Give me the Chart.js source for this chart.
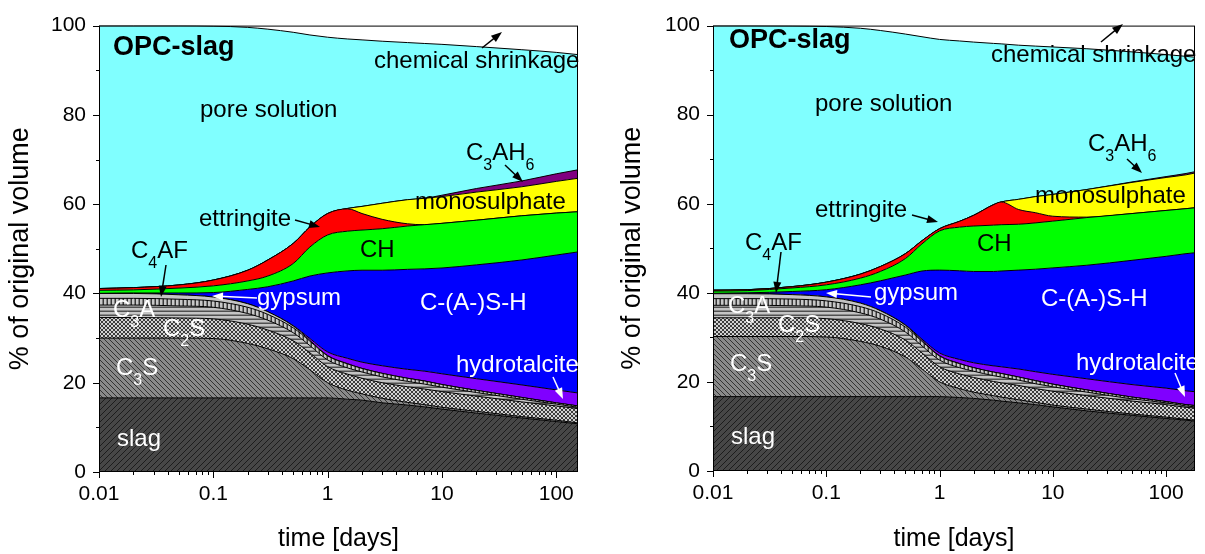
<!DOCTYPE html>
<html>
<head>
<meta charset="utf-8">
<script src="https://cdn.jsdelivr.net/npm/chart.js@4.4.0/dist/chart.umd.min.js"></script>
<style>
body { margin: 0; background: #fff; width: 1205px; height: 554px; overflow: hidden; display: flex; }
canvas { display: block; }
</style>
</head>
<body>
<canvas id="left" width="605" height="554"></canvas>
<canvas id="right" width="600" height="554"></canvas>
<script>
// phase volumes (% of original volume)
var tLeft   = [0.01,0.02,0.05,0.1,0.2,0.3,0.5,0.7,1,1.5,2,3,5,7,10,20,50,100,155];
var slagL   = [16.6,16.6,16.6,16.6,16.6,16.6,16.6,16.6,16.6,16.3,16.1,15.5,15.0,14.6,14.1,13.2,12.1,11.3,10.8];
var c3sL    = [13.4,13.4,13.4,13.3,12.2,11.0,8.8,6.3,3.4,2.0,1.4,1.0,0.6,0.5,0.4,0.4,0.3,0.3,0.2];
var c2sL    = [4.6,4.6,4.5,4.4,4.3,4.2,4.0,3.8,3.6,3.6,3.5,3.5,3.5,3.5,3.5,3.4,3.3,3.2,3.2];
var c3aL    = [2.8,2.8,2.7,2.6,2.4,2.2,1.8,1.6,1.5,1.4,1.4,1.3,1.2,1.1,1.0,0.8,0.6,0.4,0.3];
var c4afL   = [1.5,1.5,1.5,1.4,1.4,1.3,1.1,1.0,0.9,0.9,0.8,0.8,0.7,0.7,0.6,0.5,0.4,0.3,0.3];
var gypL    = [1.1,1.1,1.0,0.9,0.8,0.6,0.4,0.2,0.1,0.05,0,0,0,0,0,0,0,0,0];
var htL     = [0,0,0,0,0,0,0.1,0.4,0.8,1.2,1.4,1.7,2.0,2.2,2.4,2.6,2.8,2.9,2.9];
var cshL    = [0,0.1,0.4,1.0,3.2,5.6,10.0,14.0,17.7,19.6,20.6,21.4,22.4,22.9,23.7,25.5,28.0,30.2,31.6];
var chL     = [0.7,0.7,1.1,1.5,1.9,2.4,3.9,6.5,8.5,8.9,9.0,9.3,9.7,9.9,10.0,10.0,9.9,9.4,9.0];
var ettL    = [0.4,0.5,0.7,1.3,2.4,3.6,4.5,4.5,4.8,5.0,3.7,2.1,0.5,0,0,0,0,0,0];
var msL     = [0,0,0,0,0,0,0,0,0,0.1,1.6,3.6,5.4,5.9,6.0,6.3,6.5,7.1,7.5];
var c3ah6L  = [0,0,0,0,0,0,0,0,0,0,0,0,0,0,0.3,0.8,1.3,1.7,1.9];
var poreL   = [58.9,58.7,58.1,56.9,54.4,51.7,47.3,43.0,39.5,37.95,37.3,36.3,35.2,34.7,33.8,31.8,29.4,27.2,25.8];

var tRight  = [0.01,0.02,0.05,0.1,0.2,0.3,0.5,0.7,1,1.5,2,3,3.5,5,7,10,20,50,100,150,180];
var slagR   = [16.7,16.7,16.7,16.7,16.7,16.7,16.7,16.7,16.7,16.5,16.3,15.9,15.7,15.3,14.9,14.4,13.5,12.5,11.8,11.4,11.2];
var c3sR    = [13.5,13.5,13.5,13.4,12.4,11.3,8.9,6.2,3.3,2.0,1.4,1.0,0.9,0.7,0.5,0.4,0.4,0.3,0.3,0.2,0.2];
var c2sR    = [4.2,4.2,4.2,4.1,4.0,3.9,3.8,3.6,3.4,3.3,3.3,3.2,3.2,3.2,3.1,3.1,3.0,2.9,2.8,2.7,2.7];
var c3aR    = [2.8,2.8,2.7,2.6,2.4,2.2,1.8,1.6,1.5,1.4,1.4,1.3,1.3,1.2,1.1,1.0,0.8,0.5,0.4,0.3,0.3];
var c4afR   = [1.5,1.5,1.5,1.4,1.4,1.3,1.1,1.0,0.9,0.9,0.8,0.8,0.8,0.7,0.7,0.6,0.5,0.4,0.3,0.3,0.3];
var gypR    = [1.1,1.1,1.0,0.9,0.8,0.6,0.4,0.2,0.1,0.05,0,0,0,0,0,0,0,0,0,0,0];
var htR     = [0,0,0,0,0,0,0.1,0.3,0.6,0.9,1.1,1.4,1.5,1.8,2.0,2.2,2.5,2.8,3.0,3.1,3.1];
var cshR    = [0.1,0.2,0.7,1.6,4.1,6.7,11.2,15.3,18.6,19.9,20.5,21.2,21.5,22.2,23.0,23.9,25.5,27.9,29.6,30.8,31.2];
var chR     = [0.5,0.5,0.8,1.1,1.5,2.1,3.7,6.1,8.8,9.8,10.2,10.4,10.4,10.3,10.4,10.5,10.7,10.5,10.3,10.1,10.1];
var ettR    = [0.2,0.2,0.3,0.6,0.9,1.1,1.1,0.7,0.5,1.3,2.4,4.6,5.1,3.3,2.3,1.1,0.1,0,0,0,0];
var msR     = [0,0,0,0,0,0,0,0,0,0,0,0,0,2.3,3.6,4.9,6.2,7.0,7.4,7.6,7.8];
var c3ah6R  = [0,0,0,0,0,0,0,0,0,0,0,0,0,0,0,0,0,0.1,0.2,0.3,0.3];
var poreR   = [59.4,59.3,58.55,57.4,55.2,53.0,49.3,45.8,42.5,40.5,38.9,36.2,35.5,34.6,33.8,33.1,31.6,29.2,27.4,26.3,25.7];

var xTickLabels = ['0.01','0.1','1','10','100'];

var FONT = '"Liberation Sans", Arial, sans-serif';
Chart.defaults.font.family = FONT;
Chart.defaults.color = '#000';

function hatch(bg, fg, size, kind, lw) {
  var c = document.createElement('canvas');
  c.width = size; c.height = size;
  var g = c.getContext('2d');
  g.fillStyle = bg;
  g.fillRect(0, 0, size, size);
  g.strokeStyle = fg;
  g.lineWidth = lw || 1;
  g.beginPath();
  if (kind == '/' || kind == 'x') {
    g.moveTo(-1, size + 1); g.lineTo(size + 1, -1);
    g.moveTo(-2, 2); g.lineTo(2, -2);
    g.moveTo(size - 2, size + 2); g.lineTo(size + 2, size - 2);
  }
  if (kind == '\\' || kind == 'x') {
    g.moveTo(-1, -1); g.lineTo(size + 1, size + 1);
    g.moveTo(size - 2, -2); g.lineTo(size + 2, 2);
    g.moveTo(-2, size - 2); g.lineTo(2, size + 2);
  }
  if (kind == '-') { g.moveTo(0, size - 0.75); g.lineTo(size, size - 0.75); }
  if (kind == '|') { g.moveTo(size - 0.75, 0); g.lineTo(size - 0.75, size); }
  g.stroke();
  return g.createPattern(c, 'repeat');
}

var fills = {
  'slag': hatch('#474747', '#1c1c1c', 6, '/'),
  'C3S': hatch('#8a8a8a', '#333333', 5, '\\'),
  'C2S': hatch('#d2d2d2', '#3c3c3c', 4, 'x'),
  'C3A': hatch('#c4c4c4', '#505050', 4, '-', 1.5),
  'C4AF': hatch('#c8c8c8', '#383838', 4, '|', 1.5),
  'gypsum': '#c4c4c4',
  'hydrotalcite': '#8000ff',
  'C-(A-)S-H': '#0000ff',
  'CH': '#00ff00',
  'ettringite': '#ff0000',
  'monosulphate': '#ffff00',
  'C3AH6': '#800080',
  'pore solution': '#80ffff'
};

var notesPlugin = {
  id: 'notes',
  afterDatasetsDraw: function(chart, args, opts) {
    var ctx = chart.ctx, a = chart.chartArea;
    var xs = chart.scales.x, ys = chart.scales.y;
    ctx.save();
    // frame and tick marks
    ctx.strokeStyle = '#000';
    ctx.lineWidth = 1;
    ctx.strokeRect(a.left + 0.5, a.top + 0.5, a.right - a.left - 1, a.bottom - a.top - 1);
    ctx.beginPath();
    for (var e = -2; e <= 2; e++) {
      for (var m = 1; m <= 9; m++) {
        var v = m * Math.pow(10, e);
        if (v > xs.max) continue;
        var px = Math.round(xs.getPixelForValue(v)) + 0.5;
        ctx.moveTo(px, a.bottom);
        ctx.lineTo(px, a.bottom + (m == 1 ? 6 : 3));
      }
    }
    for (var k = 0; k <= 100; k += 10) {
      var py = Math.round(ys.getPixelForValue(k)) + 0.5;
      ctx.moveTo(a.left, py);
      ctx.lineTo(a.left - (k % 20 == 0 ? 6 : 3), py);
    }
    ctx.stroke();

    var dx = opts.dx;
    opts.arrows.forEach(function(r) {
      var x1 = r[0] - dx, y1 = r[1], x2 = r[2] - dx, y2 = r[3];
      var ang = Math.atan2(y2 - y1, x2 - x1);
      ctx.strokeStyle = r[4];
      ctx.fillStyle = r[4];
      ctx.lineWidth = 1.5;
      ctx.beginPath();
      ctx.moveTo(x1, y1);
      ctx.lineTo(x2 - 7 * Math.cos(ang), y2 - 7 * Math.sin(ang));
      ctx.stroke();
      ctx.beginPath();
      ctx.moveTo(x2, y2);
      ctx.lineTo(x2 - 11 * Math.cos(ang) + 4 * Math.sin(ang), y2 - 11 * Math.sin(ang) - 4 * Math.cos(ang));
      ctx.lineTo(x2 - 11 * Math.cos(ang) - 4 * Math.sin(ang), y2 - 11 * Math.sin(ang) + 4 * Math.cos(ang));
      ctx.closePath();
      ctx.fill();
    });

    ctx.textBaseline = 'alphabetic';
    ctx.textAlign = 'left';
    opts.labels.forEach(function(l) {
      var size = l.size || 24;
      var cx = l.x - dx;
      ctx.fillStyle = l.color || '#000';
      l.text.split(/(_.)/).forEach(function(p) {
        if (!p) return;
        var sub = p.charAt(0) == '_';
        var s = sub ? p.slice(1) : p;
        var fs = sub ? Math.round(size * 0.66) : size;
        ctx.font = (l.bold ? 'bold ' : '') + fs + 'px ' + FONT;
        ctx.fillText(s, cx, sub ? l.y + size * 0.4 : l.y);
        cx += ctx.measureText(s).width;
      });
    });
    ctx.restore();
  }
};

var W = '#ffffff', K = '#000000';
var notesLeft = {
  dx: 0,
  labels: [
    {text: 'OPC-slag', x: 113, y: 55, bold: true, size: 27},
    {text: 'chemical shrinkage', x: 374, y: 68},
    {text: 'pore solution', x: 200, y: 117},
    {text: 'C_3AH_6', x: 466, y: 160},
    {text: 'monosulphate', x: 415, y: 209},
    {text: 'ettringite', x: 199, y: 226},
    {text: 'CH', x: 360, y: 257},
    {text: 'C_4AF', x: 131, y: 258},
    {text: 'gypsum', x: 257, y: 305, color: W},
    {text: 'C-(A-)S-H', x: 420, y: 310, color: W},
    {text: 'C_3A', x: 113, y: 317, color: W},
    {text: 'C_2S', x: 163, y: 336, color: W},
    {text: 'C_3S', x: 116, y: 375, color: W},
    {text: 'slag', x: 117, y: 446, color: W},
    {text: 'hydrotalcite', x: 456, y: 372, color: W}
  ],
  arrows: [
    [482, 48, 502, 32, K],
    [505, 165, 523, 182, K],
    [295, 220, 320, 227, K],
    [166, 265, 161, 297, K],
    [257, 298, 212, 296, W],
    [553, 377, 563, 399, W]
  ]
};
var notesRight = {
  dx: 605,
  labels: [
    {text: 'OPC-slag', x: 729, y: 48, bold: true, size: 27},
    {text: 'chemical shrinkage', x: 991, y: 62},
    {text: 'pore solution', x: 815, y: 111},
    {text: 'C_3AH_6', x: 1088, y: 151},
    {text: 'monosulphate', x: 1035, y: 203},
    {text: 'ettringite', x: 815, y: 217},
    {text: 'CH', x: 977, y: 251},
    {text: 'C_4AF', x: 745, y: 250},
    {text: 'gypsum', x: 874, y: 300, color: W},
    {text: 'C-(A-)S-H', x: 1041, y: 306, color: W},
    {text: 'C_3A', x: 728, y: 313, color: W},
    {text: 'C_2S', x: 778, y: 332, color: W},
    {text: 'C_3S', x: 730, y: 371, color: W},
    {text: 'slag', x: 731, y: 444, color: W},
    {text: 'hydrotalcite', x: 1076, y: 370, color: W}
  ],
  arrows: [
    [1101, 42, 1123, 24, K],
    [1127, 159, 1142, 173, K],
    [912, 215, 938, 222, K],
    [781, 252, 776, 293, K],
    [871, 297, 826, 293, W],
    [1175, 373, 1185, 397, W]
  ]
};

function makePanel(id, t, layers, xmax, pad, yWidth, xHeight, yTitlePad, notes) {
  var datasets = layers.map(function(l, i) {
    return {
      label: l[0],
      data: t.map(function(x, j) { return {x: x, y: l[1][j]}; }),
      backgroundColor: fills[l[0]],
      borderColor: '#000',
      borderWidth: 1,
      pointRadius: 0,
      fill: i == 0 ? 'origin' : '-1',
      cubicInterpolationMode: 'monotone'
    };
  });
  return new Chart(document.getElementById(id), {
    type: 'line',
    data: {datasets: datasets},
    options: {
      responsive: false,
      animation: false,
      events: [],
      layout: {padding: pad},
      plugins: {legend: {display: false}, tooltip: {enabled: false}, notes: notes},
      scales: {
        x: {
          type: 'logarithmic',
          min: 0.01,
          max: xmax,
          grid: {display: false, drawTicks: false},
          border: {display: false},
          ticks: {
            autoSkip: false,
            maxRotation: 0,
            padding: 10,
            font: {size: 21},
            callback: function(v) {
              var lg = Math.log10(v);
              if (Math.abs(lg - Math.round(lg)) > 1e-6) return '';
              return xTickLabels[Math.round(lg) + 2] || '';
            }
          },
          title: {display: true, text: 'time [days]', font: {size: 25}, padding: {top: 2, bottom: 0}},
          afterFit: function(s) { s.height = xHeight; }
        },
        y: {
          stacked: true,
          min: 0,
          max: 100,
          grid: {display: false, drawTicks: false},
          border: {display: false},
          ticks: {stepSize: 20, padding: 13, font: {size: 21}},
          title: {display: true, text: '% of original volume', font: {size: 27}, padding: {top: yTitlePad, bottom: 0}},
          afterFit: function(s) { s.width = yWidth; }
        }
      }
    },
    plugins: [notesPlugin]
  });
}

makePanel('left', tLeft, [
  ['slag', slagL], ['C3S', c3sL], ['C2S', c2sL], ['C3A', c3aL], ['C4AF', c4afL],
  ['gypsum', gypL], ['hydrotalcite', htL], ['C-(A-)S-H', cshL], ['CH', chL],
  ['ettringite', ettL], ['monosulphate', msL], ['C3AH6', c3ah6L], ['pore solution', poreL]
], 155, {top: 25, right: 27, left: 0, bottom: 0}, 99, 82, 4, notesLeft);

makePanel('right', tRight, [
  ['slag', slagR], ['C3S', c3sR], ['C2S', c2sR], ['C3A', c3aR], ['C4AF', c4afR],
  ['gypsum', gypR], ['hydrotalcite', htR], ['C-(A-)S-H', cshR], ['CH', chR],
  ['ettringite', ettR], ['monosulphate', msR], ['C3AH6', c3ah6R], ['pore solution', poreR]
], 180, {top: 16, right: 5, left: 0, bottom: 0}, 108, 83, 11, notesRight);
</script>
</body>
</html>
